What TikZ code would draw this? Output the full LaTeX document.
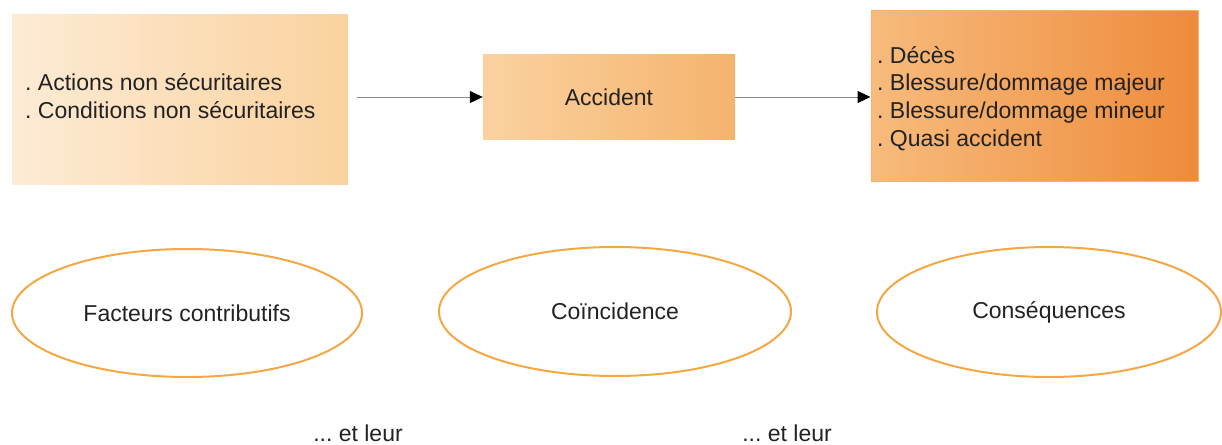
\documentclass[tikz,border=0pt]{standalone}
\usepackage{fontspec}
\setmainfont{Liberation Sans}
\usetikzlibrary{shapes.geometric,arrows.meta}
\frenchspacing
\definecolor{txt}{HTML}{222222}
\definecolor{linegray}{HTML}{8C8C8C}
\definecolor{ringorange}{HTML}{F4A742}
\definecolor{pA}{HTML}{FDEBD5}
\definecolor{pB}{HTML}{FAD29F}
\definecolor{pC}{HTML}{F5B36E}
\definecolor{pD}{HTML}{F7BB7C}
\definecolor{pE}{HTML}{EE8B3C}
\definecolor{pEdge}{HTML}{F6B266}
\tikzset{
  lbl/.style={font=\fontsize{23}{27.7}\selectfont, text=txt},
  panel/.style={rectangle, inner sep=0pt, lbl},
  listtext/.style={lbl, align=left, anchor=west, inner sep=0pt},
  ring/.style={ellipse, draw=ringorange, line width=2pt, inner sep=0pt, lbl},
  flow/.style={draw=linegray, line width=1pt,
    -{Triangle[length=13pt,width=12pt,color=black,fill=black]}},
}
\begin{document}
\begin{tikzpicture}[x=1pt,y=-1pt]
\useasboundingbox (0,0) rectangle (1222,444);

% top row: causes, event, outcomes
\node[panel, minimum width=336pt, minimum height=169pt,
      left color=pA, right color=pB] (causes) at (180,99.5) {};
\node[listtext] (causesTxt) at (25,96)
  {. Actions non sécuritaires\\. Conditions non sécuritaires};
\node[panel, minimum width=252pt, minimum height=84pt,
      left color=pB, right color=pC] (event) at (609,97) {Accident};
\node[panel, minimum width=327pt, minimum height=170pt,
      left color=pD, right color=pE, draw=pEdge, line width=1pt] (outcomes) at (1034.5,96) {};
\node[listtext] (outcomesTxt) at (877,98.5)
  {. Décès\\. Blessure/dommage majeur\\. Blessure/dommage mineur\\. Quasi accident};

\draw[flow, shorten <=9pt] (causes.east |- event.west) -- (event.west);
\draw[flow] (event.east) -- (outcomes.west |- event.east);

% bottom row: labels in rings
\node[ring, minimum width=350pt, minimum height=128pt] (factors) at (187,313) {Facteurs contributifs};
\node[ring, minimum width=352pt, minimum height=129pt] (coinc) at (615,311.5) {Coïncidence};
\node[ring, minimum width=344pt, minimum height=130pt] (conseq) at (1049,312) {Conséquences};

\node[lbl, anchor=base, inner sep=0pt] (tailA) at (358,441.5) {... et leur};
\node[lbl, anchor=base, inner sep=0pt] (tailB) at (787,441.5) {... et leur};
\end{tikzpicture}
\end{document}
